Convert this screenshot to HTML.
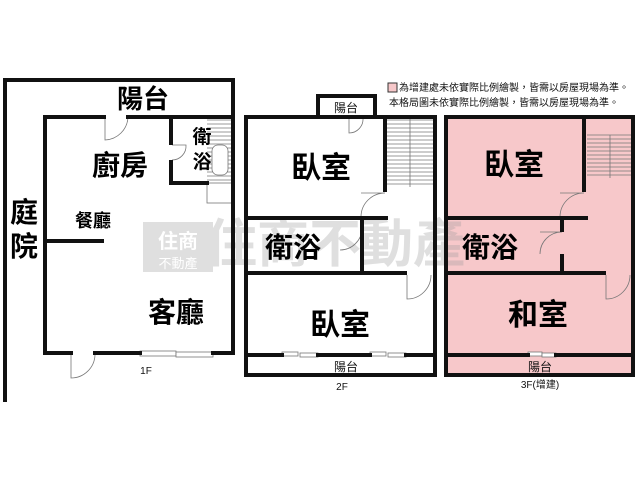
<!DOCTYPE html>
<html><head><meta charset="utf-8"><style>
html,body{margin:0;padding:0;background:#fff;width:640px;height:480px;overflow:hidden}
text{font-family:"Liberation Sans","Noto Sans CJK TC",sans-serif;fill:#111}
.b{font-weight:bold;fill:#000}
</style></head><body>
<svg width="640" height="480" viewBox="0 0 640 480" xmlns="http://www.w3.org/2000/svg">
<rect x="446" y="117" width="187" height="258" fill="#f7c8ca"/>
<rect x="388" y="83" width="9" height="9" fill="#f7c8ca" stroke="#333" stroke-width="1"/>
<text x="399" y="91" font-size="10">為增建處未依實際比例繪製，皆需以房屋現場為準。</text>
<text x="389" y="106" font-size="10">本格局圖未依實際比例繪製，皆需以房屋現場為準。</text>

<g opacity="0.3">
<rect x="143" y="222" width="70" height="50" fill="#999"/>
<text x="178" y="248" font-size="20" font-weight="bold" text-anchor="middle" style="fill:#fff">住商</text>
<text x="178" y="268" font-size="13" text-anchor="middle" style="fill:#fff">不動產</text>
<text x="335" y="262" font-size="52" font-weight="bold" text-anchor="middle" style="fill:#999">住商不動產</text>
</g>

<g fill="none" stroke="#777" stroke-width="0.8">
<path d="M207,120H233M207,124H233M207,128H233M207,132H233M207,136H233M207,140H233M207,144H233M207,148H233M207,152H233M207,156H233M207,160H233M207,164H233M207,168H233M207,172H233M207,176H233M207,180H233"/>
<rect x="207" y="183" width="26" height="20"/>
<rect x="212" y="145" width="16" height="30" rx="6" fill="#fff"/>
<path d="M105,117V140A24,24 0 0 0 128,117"/>
<path d="M172,145H186A14,14 0 0 1 172,160"/>
<path d="M71,355V378A24,24 0 0 0 95,355"/>
<rect x="140" y="351" width="36" height="5" fill="#fff"/><rect x="176" y="352" width="37" height="5" fill="#fff"/>
<path d="M387,120H433M387,124H433M387,128H433M387,132H433M387,136H433M387,140H433M387,144H433M387,148H433M387,152H433M387,156H433M387,160H433M387,164H433M387,168H433M387,172H433M387,176H433M387,180H433M387,184H433M410,117V187"/>
<path d="M349,118V133A14,14 0 0 0 363,118"/>
<path d="M385,193A24,24 0 0 0 361,217M361,193H385"/>
<path d="M362,228A22,22 0 0 1 340,250"/>
<path d="M407,275V299A24,24 0 0 0 431,275"/>
<rect x="282" y="352" width="16" height="4" fill="#fff"/><rect x="300" y="353" width="18" height="4" fill="#fff"/>
<rect x="370" y="352" width="16" height="4" fill="#fff"/><rect x="388" y="353" width="18" height="4" fill="#fff"/>
<path d="M587,135H632M587,139H632M587,143H632M587,147H632M587,151H632M587,155H632M587,159H632M587,163H632M587,167H632M587,171H632M587,175H632M610,135V178"/>
<path d="M584,193A24,24 0 0 0 560,217M560,193H584"/>
<path d="M562,232A22,22 0 0 0 540,254M540,232H562"/>
<path d="M606,275V299A24,24 0 0 0 630,275"/>
<rect x="528" y="352" width="14" height="4" fill="#fff"/><rect x="542" y="353" width="14" height="4" fill="#fff"/>
</g>

<g fill="none" stroke="#111" stroke-width="4" stroke-linecap="square">
<polyline points="5,400 5,80 233,80 233,117"/>
<polyline points="45,353 45,117 104,117"/>
<polyline points="128,117 233,117 233,353 213,353"/>
<line x1="45" y1="353" x2="71" y2="353"/>
<line x1="95" y1="353" x2="140" y2="353"/>
<polyline points="171,117 171,143"/>
<polyline points="171,162 171,183 207,183"/>
<line x1="45" y1="241" x2="102" y2="241"/>
<rect x="246" y="117" width="189" height="258"/>
<polyline points="318,117 318,96 375,96 375,117"/>
<line x1="385" y1="117" x2="385" y2="190"/>
<line x1="246" y1="218" x2="386" y2="218"/>
<line x1="362" y1="218" x2="362" y2="272"/>
<line x1="246" y1="273" x2="405" y2="273"/>
<line x1="246" y1="355" x2="282" y2="355"/>
<line x1="318" y1="355" x2="370" y2="355"/>
<line x1="406" y1="355" x2="435" y2="355"/>
<rect x="446" y="117" width="187" height="258"/>
<line x1="584" y1="117" x2="584" y2="190"/>
<line x1="446" y1="218" x2="586" y2="218"/>
<line x1="562" y1="218" x2="562" y2="230"/>
<line x1="562" y1="256" x2="562" y2="272"/>
<line x1="446" y1="273" x2="604" y2="273"/>
<line x1="446" y1="355" x2="528" y2="355"/>
<line x1="556" y1="355" x2="633" y2="355"/>
</g>

<text class="b" x="143" y="108" font-size="26" text-anchor="middle">陽台</text>
<text class="b" x="120" y="175" font-size="28" text-anchor="middle">廚房</text>
<text class="b" x="202" y="143" font-size="19" text-anchor="middle">衛</text>
<text class="b" x="202" y="168" font-size="19" text-anchor="middle">浴</text>
<text class="b" x="93" y="227" font-size="18" text-anchor="middle">餐廳</text>
<text class="b" x="24" y="222" font-size="28" text-anchor="middle">庭</text>
<text class="b" x="24" y="256" font-size="28" text-anchor="middle">院</text>
<text class="b" x="176" y="322" font-size="28" text-anchor="middle">客廳</text>
<text x="146" y="374" font-size="10" text-anchor="middle">1F</text>

<text x="346" y="112" font-size="12" text-anchor="middle">陽台</text>
<text class="b" x="321" y="178" font-size="30" text-anchor="middle">臥室</text>
<text class="b" x="293" y="257" font-size="28" text-anchor="middle">衛浴</text>
<text class="b" x="340" y="335" font-size="30" text-anchor="middle">臥室</text>
<text x="346" y="371" font-size="12" text-anchor="middle">陽台</text>
<text x="342" y="390" font-size="10" text-anchor="middle">2F</text>

<text class="b" x="514" y="175" font-size="30" text-anchor="middle">臥室</text>
<text class="b" x="490" y="257" font-size="28" text-anchor="middle">衛浴</text>
<text class="b" x="538" y="325" font-size="30" text-anchor="middle">和室</text>
<text x="540" y="371" font-size="12" text-anchor="middle">陽台</text>
<text x="540" y="388" font-size="10" text-anchor="middle">3F(增建)</text>
</svg>
</body></html>
